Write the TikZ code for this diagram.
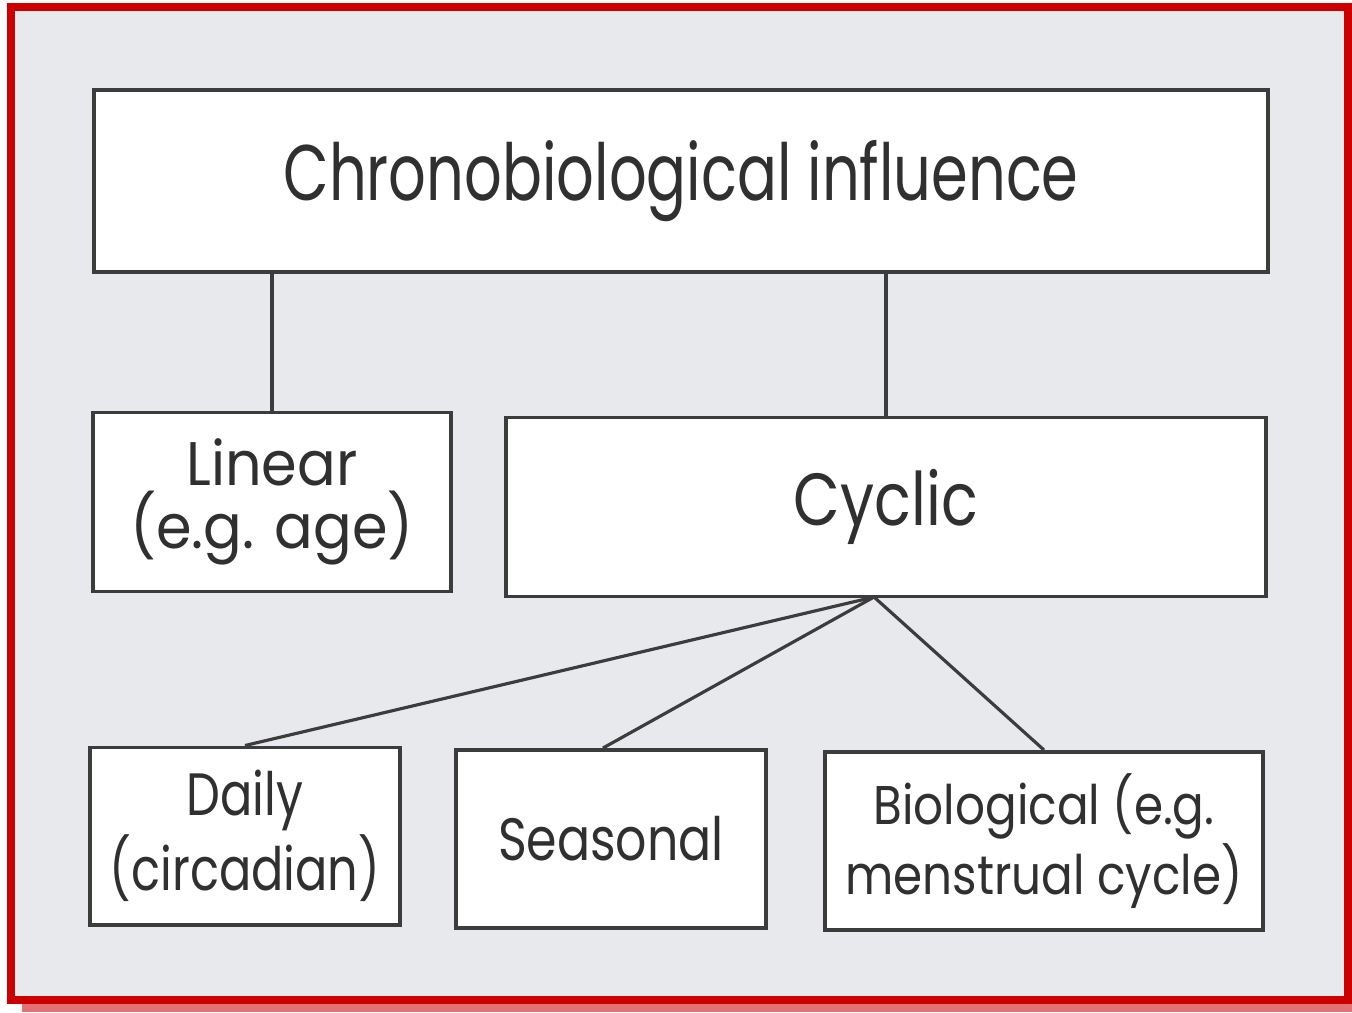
\documentclass[tikz,border=0pt]{standalone}
\usepackage{fontspec}
\usepackage{graphicx}
\setmainfont{Poppins}
\usetikzlibrary{positioning,calc}
\tikzset{%
  box/.style={draw=boxgray,fill=white,line width=1.1pt,text=txtgray,align=center,inner sep=0pt},
  link/.style={draw=boxgray,line width=0.9pt},
}
\definecolor{boxgray}{HTML}{3C3C3C}
\definecolor{txtgray}{HTML}{303030}
\definecolor{bggray}{HTML}{E8E9ED}
\definecolor{framered}{HTML}{CC0000}
\newcommand{\squeeze}[2]{\scalebox{#1}[1]{#2}}

\begin{document}
\begin{tikzpicture}[x=0.01cm,y=-0.01cm]
      \useasboundingbox (0,0) rectangle (1352,1012);
      \fill[framered!55] (22,1003) rectangle (1352,1012);
      \fill[bggray] (11,7) rectangle (1348,1000);
      \draw[framered,line width=2.2pt] (11,7) rectangle (1348,1000);

      \node[box,minimum width=11.73cm,minimum height=1.82cm,font=\fontsize{22.4}{26}\selectfont] (node_top) at (681,181) {\squeeze{0.75}{Chronobiological influence}};

      \node[box,minimum width=3.57cm,minimum height=1.79cm,font=\fontsize{17.5}{18}\selectfont] (node_linear) at (272,502) {\squeeze{0.93}{Linear}\\\squeeze{0.93}{(e.g. age)}};
      \node[box,minimum width=7.59cm,minimum height=1.79cm,font=\fontsize{21}{24}\selectfont] (node_cyclic) at (886,507) {\squeeze{0.82}{Cyclic}};

      \node[box,minimum width=3.10cm,minimum height=1.77cm,font=\fontsize{17}{18}\selectfont] (node_daily) at (245,836) {\squeeze{0.8}{Daily}\\\squeeze{0.8}{(circadian)}};
      \node[box,minimum width=3.09cm,minimum height=1.78cm,font=\fontsize{17}{20}\selectfont] (node_seasonal) at (611,839) {\squeeze{0.82}{Seasonal}};
      \node[box,minimum width=4.38cm,minimum height=1.78cm,font=\fontsize{15.5}{17}\selectfont] (node_bio) at (1044,841) {\squeeze{0.86}{Biological (e.g.}\\\squeeze{0.86}{menstrual cycle)}};

      \coordinate (hub) at (874,597);

      \draw[link] (node_top.south -| node_linear.north) -- (node_linear.north);
      \draw[link] (node_top.south -| node_cyclic.north) -- (node_cyclic.north);

      \draw[link] (hub) -- (node_daily.north);
      \draw[link] (hub) -- ([xshift=-0.08cm]node_seasonal.north);
      \draw[link] (hub) -- (node_bio.north);
    \end{tikzpicture}
\end{document}
